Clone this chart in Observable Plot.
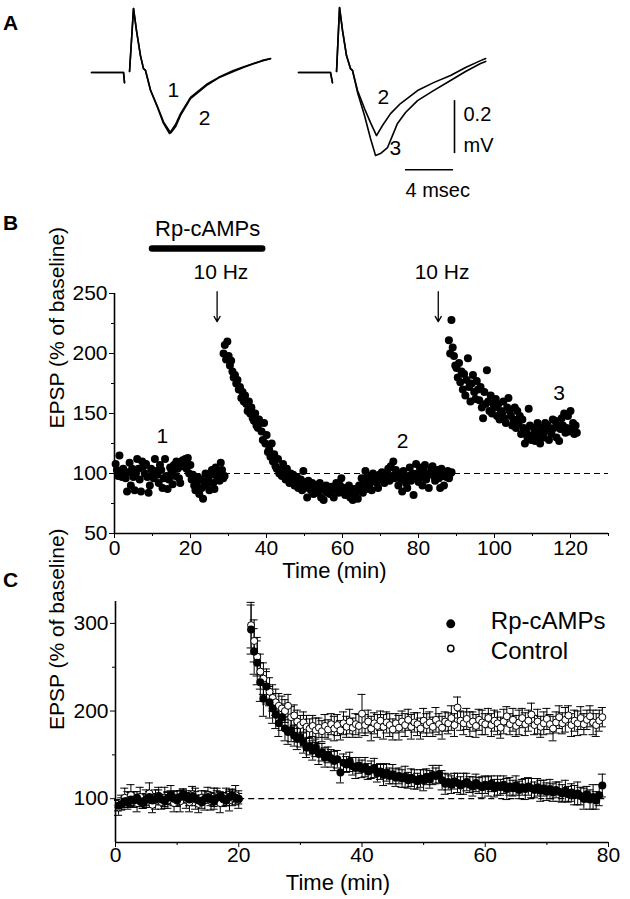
<!DOCTYPE html>
<html><head><meta charset="utf-8">
<script src="https://cdn.jsdelivr.net/npm/d3@7"></script>
<script src="https://cdn.jsdelivr.net/npm/@observablehq/plot@0.6"></script>
<style>
body{margin:0;background:#fff;}
#fig{position:relative;width:630px;height:899px;overflow:hidden;font-family:"Liberation Sans",Arial,sans-serif;background:#fff;}
.p{position:absolute;}
.lab{position:absolute;font-weight:bold;font-size:21px;line-height:1;}
</style></head><body><div id="fig"></div>
<script>
// ---------------- Panel A: EPSP traces (ms, mV relative to baseline) ----------------
const aL1T = [0, 2.67, 2.75, 2.95, 3.17, 3.5, 3.75, 4.08, 4.33, 4.5, 4.92, 5.5, 6.0, 6.5, 7.0, 7.42, 8.25, 9.67, 10.6, 11.83, 12.7, 13.5, 14.2, 14.92];
const aL1V = [0, 0, -0.038, null, 0.004, 0.242, 0.158, 0.064, 0.015, 0.008, -0.068, -0.132, -0.192, -0.230, -0.196, -0.155, -0.094, -0.042, -0.018, 0.008, 0.022, 0.034, 0.045, 0.053];
const aL2T = [0, 2.67, 2.75, 2.95, 3.17, 3.5, 3.75, 4.08, 4.33, 4.5, 4.92, 5.5, 6.0, 6.6, 7.0, 7.42, 8.25, 9.67, 10.6, 11.83, 12.7, 13.5, 14.2, 14.92];
const aL2V = [0, 0, -0.038, null, 0.004, 0.242, 0.158, 0.064, 0.015, 0.008, -0.066, -0.128, -0.186, -0.228, -0.205, -0.162, -0.098, -0.046, -0.020, 0.004, 0.020, 0.033, 0.044, 0.052];
const aR2T = [0, 2.67, 2.83, 2.95, 3.17, 3.42, 3.67, 4.0, 4.33, 4.5, 4.92, 5.5, 6.0, 6.5, 7.0, 7.67, 8.5, 9.92, 11.25, 12.67, 13.92, 15.17, 15.6];
const aR2V = [0, 0, -0.038, null, 0.004, 0.245, 0.158, 0.064, 0.015, 0.008, -0.068, -0.136, -0.189, -0.238, -0.200, -0.155, -0.117, -0.068, -0.038, -0.011, 0.019, 0.045, 0.053];
const aR3T = [0, 2.67, 2.83, 2.95, 3.17, 3.42, 3.67, 4.0, 4.33, 4.5, 4.92, 5.5, 6.0, 6.42, 6.83, 7.42, 7.83, 8.25, 8.92, 9.92, 11.25, 12.67, 13.92, 15.17, 15.6];
const aR3V = [0, 0, -0.038, null, 0.004, 0.245, 0.158, 0.064, 0.015, 0.008, -0.075, -0.162, -0.249, -0.313, -0.306, -0.283, -0.238, -0.192, -0.151, -0.106, -0.068, -0.030, 0.004, 0.034, 0.042];
const aLeftLabels = ["1", "2"];
const aLeftLabelT = [6.83, 9.42];
const aLeftLabelV = [-0.068, -0.174];
const aRightLabels = ["2", "3"];
const aRightLabelT = [7.08, 8.08];
const aRightLabelV = [-0.094, -0.287];
const scaleBarMs = 4, scaleBarMv = 0.2;
const scaleBarLabels = ["0.2", "mV", "4 msec"];

// ---------------- Panel B: single experiment (EPSP % of baseline) ----------------
const bDt = 1/3; // one sweep every 20 s
const bStarts = [0.3, 28.7, 88.0];
const bSeg1 = [
108,103,98, 115,100,97, 104,100,96, 85,101,109, 90,104,97, 86,100,112, 104,95,85,
110,106,100, 108,97,84, 90,104,100, 96,112,102, 99,92,107, 103,88,96, 112,98,87,
95,105,101, 91,107,98, 110,104,96, 92,106,111, 108,112,104, 113,100,107, 95,99,90,
86,92,97, 83,95,88, 79,93,100, 90,96,86, 99,103,92, 87,105,97, 100,94,109, 103,96,98];
const bSeg2 = [
200,207,195, 210,198,190, 194,185,180, 182,175,178, 170,172,163, 168,160,165,
158,152,160, 150,155,146, 144,150,140, 138,145,142, 135,128,142, 125,132,118,
120,114,125, 110,116,106, 104,112,100, 103,98,108, 101,95,104, 97,92,100,
94,99,90, 92,97,88, 90,95,86, 102,88,93, 80,94,88, 86,92,83, 90,84,88, 85,92,80,
88,78,86, 90,84,87, 83,89,86, 80,88,92, 87,84,90, 96,85,88, 82,88,84, 90,80,86,
78,87,83, 85,79,90, 88,96,84, 93,102,87, 98,90,95, 86,100,94, 97,92,88, 99,95,101,
96,92,98, 100,104,94, 106,98,110, 96,103,99, 90,100,95, 85,102,97, 92,88,98,
105,94,100, 82,96,108, 100,93,105, 97,90,102, 107,95,99, 88,100,104, 106,98,94,
100,103,96, 88,104,98, 90,101,97, 102,96,100, 101];
const bSeg3 = [
211,200,228, 205,198,190, 188,180,192, 176,185,170, 183,165,178, 196,172,160,
175,182,168, 162,177,170, 161,172,155, 146,168,158, 186,160,152, 165,150,158,
155,162,148, 158,145,152, 150,160,146, 142,155,163, 152,148,140, 145,155,138,
152,142,148, 133,145,138, 125,135,130, 154,140,128, 132,138,127, 135,142,130,
125,138,133, 130,142,136, 140,128,135, 133,145,138, 144,130,140, 127,137,146,
140,150,134, 138,148,135, 152,137,142, 133,140,134];
const bBar = {label: "Rp-cAMPs", from: 10, to: 39};
const bTetanus = [27.0, 85.2];
const bTetanusLabel = "10 Hz";
const bNumLabels = ["1", "2", "3"];
const bNumT = [12.6, 75.8, 117];
const bNumV = [131, 127, 167];
const bXTicks = [0, 20, 40, 60, 80, 100, 120];
const bXMinor = [10, 30, 50, 70, 90, 110, 130];
const bYTicks = [50, 100, 150, 200, 250];
const bYMinor = [75, 125, 175, 225];

// ---------------- Panel C: group means ± SEM ----------------
const cBaseStart = 0.5, cPostStart = 22.0, cStep = 0.5;
const cRpBase = [
92,94,97,96,99,98,101,97,95,99, 102,98,100,103,99,97,101,104,100,98,
102,105,101,99,103,100,98,96,100,102, 99,97,101,103,100,98,102,104,101,100];
const cRpBaseErr = [
6,7,5,6,8,6,7,5,6,7, 6,8,5,7,6,6,7,5,8,6, 7,6,5,7,6,8,6,7,5,6, 7,6,8,5,7,6,6,7,5,6];
const cCtlBase = [
90,96,101,98,104,99,95,102,97,100, 106,93,99,103,96,101,98,104,95,100,
97,103,99,96,105,100,94,101,98,104, 97,100,103,95,99,102,98,101,104,99];
const cCtlBaseErr = [
9,8,11,10,12,9,10,11,8,10, 12,9,11,10,8,12,9,11,10,9, 12,8,10,11,9,12,10,8,11,9, 10,12,9,11,8,10,12,9,11,10];
const cRpPost = [
293,268,255,233,214,228,210,203,196,186, 193,180,176,178,172,168,170,164,158,160,
155,158,151,153,147,150,146,143,145,130, 141,139,142,137,135,138,134,136,131,133,
135,129,131,127,130,126,128,124,126,123, 125,121,124,122,120,123,121,125,122,127,
126,128,121,117,119,116,120,118,115,117, 119,116,114,118,115,113,116,114,117,112,
115,113,116,111,114,112,115,110,113,111, 114,112,110,113,109,112,108,111,107,110,
108,106,109,105,107,104,106,103,100,105, 99,102,98,104,115];
const cRpPostErr = [
28,26,25,22,20,20,18,17,16,15, 15,14,14,13,12,12,11,12,11,10, 11,10,12,10,11,9,10,11,10,12,
10,9,11,10,12,9,10,11,9,10, 11,10,9,12,10,9,11,10,9,10, 12,9,10,11,9,10,12,9,10,11,
9,10,11,12,9,10,9,11,10,12, 10,9,11,10,9,12,10,11,9,10, 11,9,10,12,10,9,11,10,9,12,
10,11,9,10,12,9,10,11,10,9, 11,10,12,9,10,11,13,10,12,9, 11,14,10,12,13];
const cCtlPost = [
298,280,262,245,237,228,222,215,210,206, 203,200,206,193,195,188,184,187,182,180,
183,178,181,177,183,179,185,180,184,178, 186,182,188,181,185,183,197,184,188,180,
186,183,189,182,187,184,179,186,181,188, 184,190,182,187,185,180,189,184,187,182,
190,185,181,188,186,192,184,204,189,186, 191,185,188,183,190,187,185,192,184,189,
186,181,188,194,185,190,183,187,192,185, 189,196,184,188,182,186,191,185,180,187,
193,186,190,195,184,189,186,192,185,190, 194,187,184,189,193];
const cCtlPostErr = [
26,24,22,20,18,17,16,15,15,14, 14,13,13,12,12,13,11,12,13,11, 12,14,11,12,13,11,12,14,12,11,
13,12,14,11,12,13,22,12,13,14, 12,13,11,14,12,13,12,11,14,12, 13,12,14,11,13,12,14,13,12,11,
14,12,13,11,12,14,13,12,11,13, 12,14,11,13,12,14,12,11,13,12, 13,12,14,11,12,13,12,14,11,13,
12,13,11,14,12,13,12,11,14,12, 13,12,14,11,13,12,14,13,12,11, 12,14,13,12,11];
const cSeries = ["Rp-cAMPs", "Control"];
const cXTicks = [0, 20, 40, 60, 80];
const cXMinor = [10, 30, 50, 70];
const cYTicks = [100, 200, 300];
const cYMinor = [150, 250];

const yLabel = "EPSP (% of baseline)";
const xLabel = "Time (min)";

// ---------------- helpers ----------------
const FONT = '"Liberation Sans", Arial, sans-serif';
const baseStyle = {fontFamily: FONT, fontSize: "21px", background: "transparent", overflow: "visible", color: "black"};
const rowsOf = (T, V) => T.map((t, i) => ({t, v: V[i]}));
const fig = document.getElementById("fig");
function place(node, left, top) {
  const d = document.createElement("div");
  d.className = "p"; d.style.left = left + "px"; d.style.top = top + "px";
  d.appendChild(node); fig.appendChild(d);
}
function letter(txt, left, top) {
  const d = document.createElement("div");
  d.className = "lab"; d.style.left = left + "px"; d.style.top = top + "px";
  d.textContent = txt; fig.appendChild(d);
}

// ---------------- Panel A ----------------
const yDomA = [-0.483, 0.272];
const traceMarks = (rows) => Plot.line(rows, {x: "t", y: "v", stroke: "black", strokeWidth: 1.6});
const plotAL = Plot.plot({
  width: 186, height: 200, margin: 0,
  x: {domain: [0, 15.5], axis: null}, y: {domain: yDomA, axis: null},
  style: baseStyle,
  marks: [
    traceMarks(rowsOf(aL2T, aL2V)),
    traceMarks(rowsOf(aL1T, aL1V)),
    Plot.text(aLeftLabels, {x: (d, i) => aLeftLabelT[i], y: (d, i) => aLeftLabelV[i], text: d => d, fontSize: 21})
  ]
});
place(plotAL, 91, 0);

const plotAR = Plot.plot({
  width: 200, height: 200, margin: 0,
  x: {domain: [0, 200 / 12], axis: null}, y: {domain: yDomA, axis: null},
  style: baseStyle,
  marks: [
    traceMarks(rowsOf(aR2T, aR2V)),
    traceMarks(rowsOf(aR3T, aR3V)),
    Plot.text(aRightLabels, {x: (d, i) => aRightLabelT[i], y: (d, i) => aRightLabelV[i], text: d => d, fontSize: 21}),
    Plot.ruleX([13.0], {y1: -0.306, y2: -0.306 + scaleBarMv, strokeWidth: 1.6}),
    Plot.ruleY([-0.367], {x1: 12.92 - scaleBarMs, x2: 12.92, strokeWidth: 1.6}),
    Plot.text([scaleBarLabels[0]], {x: 13.75, y: -0.160, text: d => d, textAnchor: "start", fontSize: 20}),
    Plot.text([scaleBarLabels[1]], {x: 13.75, y: -0.274, text: d => d, textAnchor: "start", fontSize: 20}),
    Plot.text([scaleBarLabels[2]], {x: 11.6, y: -0.447, text: d => d, fontSize: 20})
  ]
});
place(plotAR, 298, 0);

// ---------------- Panel B ----------------
const bRows = [bSeg1, bSeg2, bSeg3].flatMap((seg, k) => seg.map((v, i) => ({t: bStarts[k] + i * bDt, v})));
const plotB = Plot.plot({
  width: 630, height: 400,
  marginLeft: 114, marginRight: 22, marginTop: 93, marginBottom: 67,
  x: {domain: [0, 130]}, y: {domain: [50, 250]},
  style: baseStyle,
  marks: [
    Plot.ruleY([100], {x1: 0, x2: 130, strokeDasharray: "6,4", strokeWidth: 1.2}),
    Plot.dot(bRows, {x: "t", y: "v", r: 4, fill: "black", stroke: "none"}),
    Plot.ruleX([0], {y1: 50, y2: 250, strokeWidth: 1.6}),
    Plot.ruleY([50], {x1: 0, x2: 130, strokeWidth: 1.6}),
    Plot.axisX({ticks: bXTicks, tickSize: 5, tickPadding: 2, label: null}),
    Plot.axisX({ticks: bXMinor, tickSize: 3, tickFormat: () => "", label: null}),
    Plot.axisY({ticks: bYTicks, tickSize: 5, tickPadding: 2, label: null}),
    Plot.axisY({ticks: bYMinor, tickSize: 3, tickFormat: () => "", label: null}),
    Plot.text([yLabel], {frameAnchor: "left", text: d => d, rotate: -90, dx: -57, dy: 15, fontSize: 21}),
    Plot.text([xLabel], {frameAnchor: "bottom", text: d => d, dx: -27, dy: 44, fontSize: 22}),
    // treatment bar and stimulation arrows
    Plot.ruleY([287.5], {x1: bBar.from, x2: bBar.to, strokeWidth: 6.5, strokeLinecap: "round"}),
    Plot.text([bBar.label], {x: (bBar.from + bBar.to) / 2, y: 304, text: d => d, fontSize: 22}),
    Plot.text(bTetanus, {x: d => d + 1, y: 267.5, text: () => bTetanusLabel, fontSize: 21}),
    Plot.arrow(bTetanus, {x1: d => d, x2: d => d, y1: 251.5, y2: 226.5, headLength: 7, strokeWidth: 1.3}),
    Plot.text(bNumLabels, {x: (d, i) => bNumT[i], y: (d, i) => bNumV[i], text: d => d, fontSize: 21})
  ]
});
place(plotB, 0, 200);

// ---------------- Panel C ----------------
const mk = (M, E, start) => M.map((m, i) => ({t: start + i * cStep, m, e: E[i]}));
const rpRows = mk(cRpBase, cRpBaseErr, cBaseStart).concat(mk(cRpPost, cRpPostErr, cPostStart));
const ctlRows = mk(cCtlBase, cCtlBaseErr, cBaseStart).concat(mk(cCtlPost, cCtlPostErr, cPostStart));
const errMarks = (rows) => [
  Plot.ruleX(rows, {x: "t", y1: d => d.m - d.e, y2: d => d.m + d.e, strokeWidth: 1}),
  Plot.ruleY(rows, {y: d => d.m + d.e, x1: d => d.t - 0.65, x2: d => d.t + 0.65, strokeWidth: 1}),
  Plot.ruleY(rows, {y: d => d.m - d.e, x1: d => d.t - 0.65, x2: d => d.t + 0.65, strokeWidth: 1})
];
const plotC = Plot.plot({
  width: 630, height: 319,
  marginLeft: 115, marginRight: 22, marginTop: 21, marginBottom: 57,
  x: {domain: [0, 80]}, y: {domain: [50, 325]},
  style: baseStyle,
  marks: [
    Plot.ruleY([100], {x1: 20, x2: 80, strokeDasharray: "6,4", strokeWidth: 1.2}),
    ...errMarks(ctlRows),
    ...errMarks(rpRows),
    Plot.dot(ctlRows, {x: "t", y: "m", r: 3.5, fill: "white", stroke: "black", strokeWidth: 1}),
    Plot.dot(rpRows, {x: "t", y: "m", r: 4, fill: "black", stroke: "none"}),
    Plot.ruleX([0], {y1: 50, y2: 325, strokeWidth: 1.6}),
    Plot.ruleY([50], {x1: 0, x2: 80, strokeWidth: 1.6}),
    Plot.axisX({ticks: cXTicks, tickSize: 5, tickPadding: 0, label: null}),
    Plot.axisX({ticks: cXMinor, tickSize: 3, tickFormat: () => "", label: null}),
    Plot.axisY({ticks: cYTicks, tickSize: 5, tickPadding: 2, label: null}),
    Plot.axisY({ticks: cYMinor, tickSize: 3, tickFormat: () => "", label: null}),
    Plot.text([yLabel], {frameAnchor: "left", text: d => d, rotate: -90, dx: -58, dy: 8, fontSize: 21}),
    Plot.text([xLabel], {frameAnchor: "bottom", text: d => d, dx: -24, dy: 47, fontSize: 22}),
    // legend
    Plot.dot([cSeries[0]], {x: 54.4, y: 299.5, r: 4.5, fill: "black"}),
    Plot.dot([cSeries[1]], {x: 54.4, y: 271.4, r: 3.2, fill: "white", stroke: "black"}),
    Plot.text(cSeries, {x: 60.9, y: (d, i) => i === 0 ? 302 : 268.5, text: d => d, textAnchor: "start", fontSize: 24})
  ]
});
place(plotC, 0, 580);

letter("A", 3, 12);
letter("B", 3, 212);
letter("C", 3, 569);
</script></body></html>
